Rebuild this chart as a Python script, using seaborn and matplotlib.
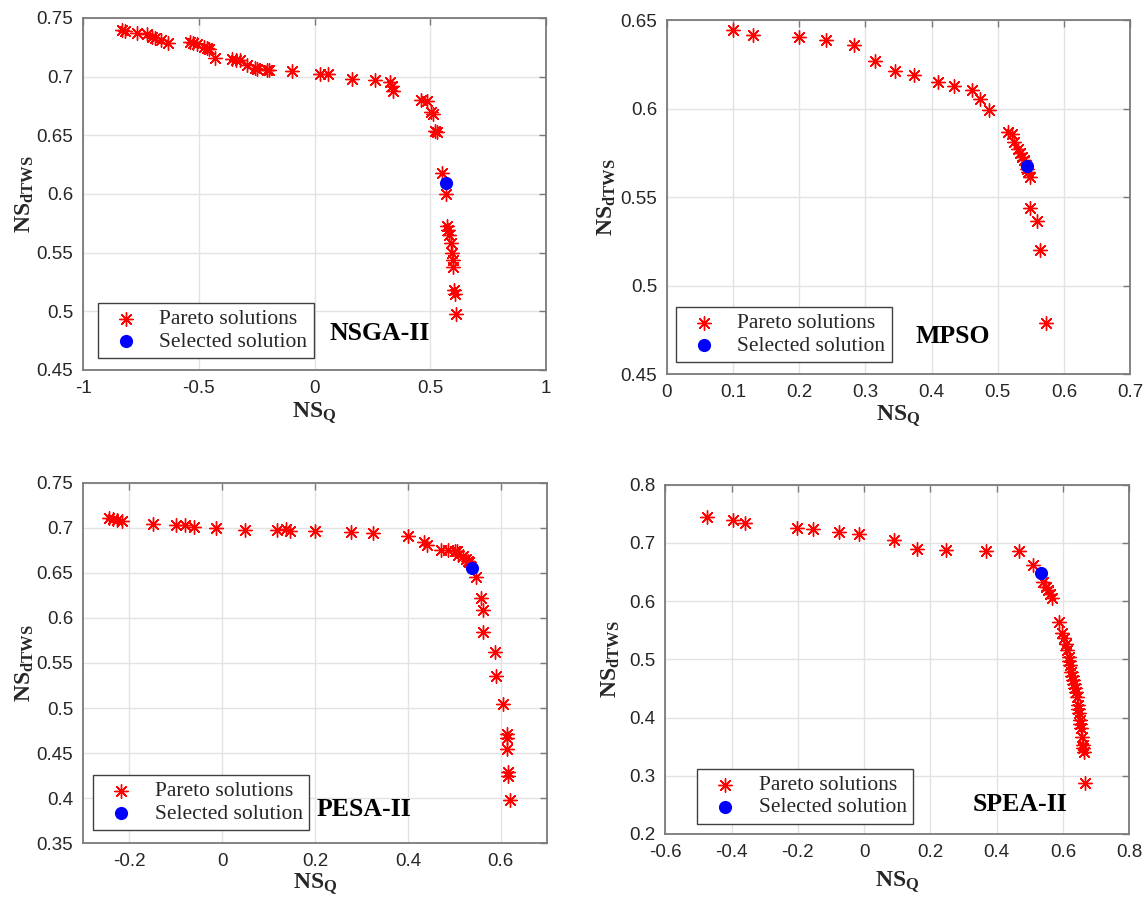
import matplotlib
matplotlib.use("Agg")
import matplotlib.pyplot as plt
import seaborn as sns

# ---------------- NSGA-II ----------------
nsga_q = [-0.832, -0.820, -0.769, -0.722, -0.700, -0.691, -0.665, -0.634, -0.536, -0.525,
          -0.507, -0.478, -0.465, -0.457, -0.428, -0.356, -0.340, -0.320, -0.291, -0.256,
          -0.250, -0.205, -0.198, -0.097, 0.022, 0.060, 0.161, 0.262, 0.326, 0.335,
          0.338, 0.459, 0.484, 0.502, 0.513, 0.522, 0.527, 0.549, 0.566, 0.571,
          0.575, 0.582, 0.588, 0.592, 0.597, 0.599, 0.603, 0.606, 0.609]
nsga_tws = [0.740, 0.739, 0.737, 0.7366, 0.734, 0.733, 0.731, 0.7286, 0.7295, 0.729,
            0.7277, 0.725, 0.724, 0.7235, 0.7163, 0.715, 0.7145, 0.7143, 0.710, 0.707,
            0.7065, 0.7055, 0.7057, 0.705, 0.702, 0.702, 0.698, 0.697, 0.695, 0.692,
            0.688, 0.680, 0.679, 0.670, 0.668, 0.654, 0.653, 0.618, 0.600, 0.573,
            0.569, 0.565, 0.558, 0.550, 0.544, 0.538, 0.518, 0.515, 0.498]
nsga_sel = (0.566, 0.609)

# ---------------- MPSO ----------------
mpso_q = [0.100, 0.130, 0.200, 0.240, 0.282, 0.314, 0.344, 0.374, 0.409, 0.434,
          0.461, 0.473, 0.487, 0.515, 0.521, 0.525, 0.530, 0.533, 0.537, 0.540,
          0.545, 0.5465, 0.5485, 0.5485, 0.560, 0.564, 0.5727]
mpso_tws = [0.6443, 0.6419, 0.6406, 0.639, 0.636, 0.627, 0.6211, 0.6189, 0.615, 0.6126,
            0.6107, 0.6055, 0.5993, 0.5868, 0.5855, 0.5812, 0.5774, 0.575, 0.5727, 0.5708,
            0.566, 0.5642, 0.5614, 0.544, 0.5364, 0.520, 0.479]
mpso_sel = (0.5435, 0.5675)

# ---------------- PESA-II ----------------
pesa_q = [-0.245, -0.2345, -0.226, -0.217, -0.150, -0.0986, -0.081, -0.0615, -0.013, 0.048,
          0.117, 0.137, 0.146, 0.200, 0.278, 0.326, 0.401, 0.434, 0.441, 0.4715,
          0.486, 0.502, 0.507, 0.509, 0.518, 0.525, 0.530, 0.532, 0.546, 0.557,
          0.562, 0.562, 0.587, 0.591, 0.606, 0.613, 0.613, 0.614, 0.616, 0.617, 0.620]
pesa_tws = [0.7107, 0.710, 0.7085, 0.708, 0.7044, 0.703, 0.7037, 0.701, 0.6997, 0.698,
            0.698, 0.699, 0.697, 0.6963, 0.695, 0.694, 0.6915, 0.684, 0.6815, 0.676,
            0.676, 0.674, 0.674, 0.6696, 0.6685, 0.665, 0.6638, 0.662, 0.646, 0.622,
            0.609, 0.584, 0.562, 0.536, 0.504, 0.471, 0.467, 0.454, 0.429, 0.424, 0.398]
pesa_sel = (0.538, 0.656)

# ---------------- SPEA-II ----------------
spea_q = [-0.473, -0.396, -0.359, -0.201, -0.153, -0.0745, -0.014, 0.0915, 0.159, 0.247,
          0.368, 0.467, 0.511, 0.539, 0.549, 0.556, 0.562, 0.566, 0.588, 0.597,
          0.603, 0.608, 0.613, 0.617, 0.619, 0.621, 0.625, 0.628, 0.631, 0.633,
          0.635, 0.638, 0.641, 0.644, 0.646, 0.648, 0.651, 0.652, 0.654, 0.658,
          0.661, 0.662, 0.664, 0.666]
spea_tws = [0.745, 0.739, 0.7345, 0.726, 0.723, 0.719, 0.715, 0.7047, 0.689, 0.6874,
            0.686, 0.686, 0.662, 0.633, 0.6246, 0.619, 0.613, 0.6046, 0.5646, 0.5446,
            0.536, 0.526, 0.516, 0.5045, 0.497, 0.490, 0.479, 0.472, 0.4645, 0.457,
            0.450, 0.443, 0.436, 0.4216, 0.414, 0.4074, 0.396, 0.389, 0.3816, 0.367,
            0.353, 0.347, 0.3415, 0.287]
spea_sel = (0.534, 0.6475)

# tick values per panel
nsga_xticks = [-1, -0.5, 0, 0.5, 1]
nsga_yticks = [0.45, 0.5, 0.55, 0.6, 0.65, 0.7, 0.75]
mpso_xticks = [0, 0.1, 0.2, 0.3, 0.4, 0.5, 0.6, 0.7]
mpso_yticks = [0.45, 0.5, 0.55, 0.6, 0.65]
pesa_xticks = [-0.2, 0, 0.2, 0.4, 0.6]
pesa_yticks = [0.35, 0.4, 0.45, 0.5, 0.55, 0.6, 0.65, 0.7, 0.75]
spea_xticks = [-0.6, -0.4, -0.2, 0, 0.2, 0.4, 0.6, 0.8]
spea_yticks = [0.2, 0.3, 0.4, 0.5, 0.6, 0.7, 0.8]

sns.set_style("white")
plt.rcParams.update({
    "font.family": ["Liberation Sans", "DejaVu Sans"],
    "mathtext.fontset": "custom",
    "mathtext.rm": "Liberation Serif",
    "mathtext.bf": "Liberation Serif:bold",
    "mathtext.it": "Liberation Serif:italic",
})

fig = plt.figure(figsize=(11.47, 8.98), dpi=100)

panels = [
    dict(rect=(0.0724, 0.588, 0.4037, 0.392), q=nsga_q, t=nsga_tws, sel=nsga_sel,
         xlim=(-1, 1), ylim=(0.45, 0.75), xt=nsga_xticks, yt=nsga_yticks,
         name="NSGA-II", name_pos=(0.64, 0.105), leg=(0.032, 0.034),
         xl=(0.5, -0.122), yl=(-0.125, 0.5)),
    dict(rect=(0.5815, 0.5835, 0.4037, 0.394), q=mpso_q, t=mpso_tws, sel=mpso_sel,
         xlim=(0, 0.7), ylim=(0.45, 0.65), xt=mpso_xticks, yt=mpso_yticks,
         name="MPSO", name_pos=(0.618, 0.107), leg=(0.019, 0.034),
         xl=(0.5, -0.119), yl=(-0.13, 0.5)),
    dict(rect=(0.0724, 0.0612, 0.4045, 0.401), q=pesa_q, t=pesa_tws, sel=pesa_sel,
         xlim=(-0.3, 0.7), ylim=(0.35, 0.75), xt=pesa_xticks, yt=pesa_yticks,
         name="PESA-II", name_pos=(0.606, 0.092), leg=(0.022, 0.036),
         xl=(0.5, -0.114), yl=(-0.125, 0.5)),
    dict(rect=(0.580, 0.0713, 0.4045, 0.389), q=spea_q, t=spea_tws, sel=spea_sel,
         xlim=(-0.6, 0.8), ylim=(0.2, 0.8), xt=spea_xticks, yt=spea_yticks,
         name="SPEA-II", name_pos=(0.765, 0.083), leg=(0.069, 0.029),
         xl=(0.5, -0.1375), yl=(-0.118, 0.5)),
]

spine_col = "#7a7a7a"
text_col = "#262626"
serif = ["Liberation Serif", "DejaVu Serif"]

for p in panels:
    ax = fig.add_axes(p["rect"])
    sns.scatterplot(x=p["q"], y=p["t"], ax=ax, marker=(8, 2, 0), color="red",
                    s=95, linewidth=1.0, label="Pareto solutions", zorder=3)
    sns.scatterplot(x=[p["sel"][0]], y=[p["sel"][1]], ax=ax, marker="o",
                    color="blue", edgecolor="blue", s=90, linewidth=0,
                    label="Selected solution", zorder=4)

    ax.set_xlim(*p["xlim"])
    ax.set_ylim(*p["ylim"])
    ax.set_xticks(p["xt"])
    ax.set_xticklabels([f"{v:g}" for v in p["xt"]])
    ax.set_yticks(p["yt"])
    ax.set_yticklabels([f"{v:g}" for v in p["yt"]])
    ax.grid(True, color="#e3e3e3", linewidth=1.0, zorder=0)
    ax.set_axisbelow(True)
    ax.tick_params(direction="in", length=5, width=1, top=True, right=True,
                   colors=spine_col, labelcolor=text_col, labelsize=13.5, pad=7)
    for sp in ax.spines.values():
        sp.set_visible(True)
        sp.set_color(spine_col)
        sp.set_linewidth(1.3)

    ax.set_xlabel(r"$\mathbf{NS}_{\mathbf{Q}}$", fontsize=17, color=text_col)
    ax.xaxis.label.set_va("center")
    ax.xaxis.set_label_coords(*p["xl"])
    ax.set_ylabel(r"$\mathbf{NS}_{\mathbf{dTWS}}$", fontsize=17, color=text_col)
    ax.yaxis.label.set_va("center")
    ax.yaxis.set_label_coords(*p["yl"])

    ax.text(p["name_pos"][0], p["name_pos"][1], p["name"], transform=ax.transAxes,
            ha="center", va="center", fontsize=18.5, fontweight="bold",
            family=serif, color="black", zorder=5)

    leg = ax.legend(loc="lower left", bbox_to_anchor=p["leg"], borderaxespad=0,
                    frameon=True, fancybox=False, framealpha=1,
                    edgecolor="#404040", prop=dict(family=serif, size=15.5),
                    handlelength=2.0, handletextpad=0.55, borderpad=0.3,
                    labelspacing=0.1)
    leg.get_frame().set_linewidth(1.0)
    for txt in leg.get_texts():
        txt.set_color(text_col)

fig.savefig("out.png", dpi=100)
